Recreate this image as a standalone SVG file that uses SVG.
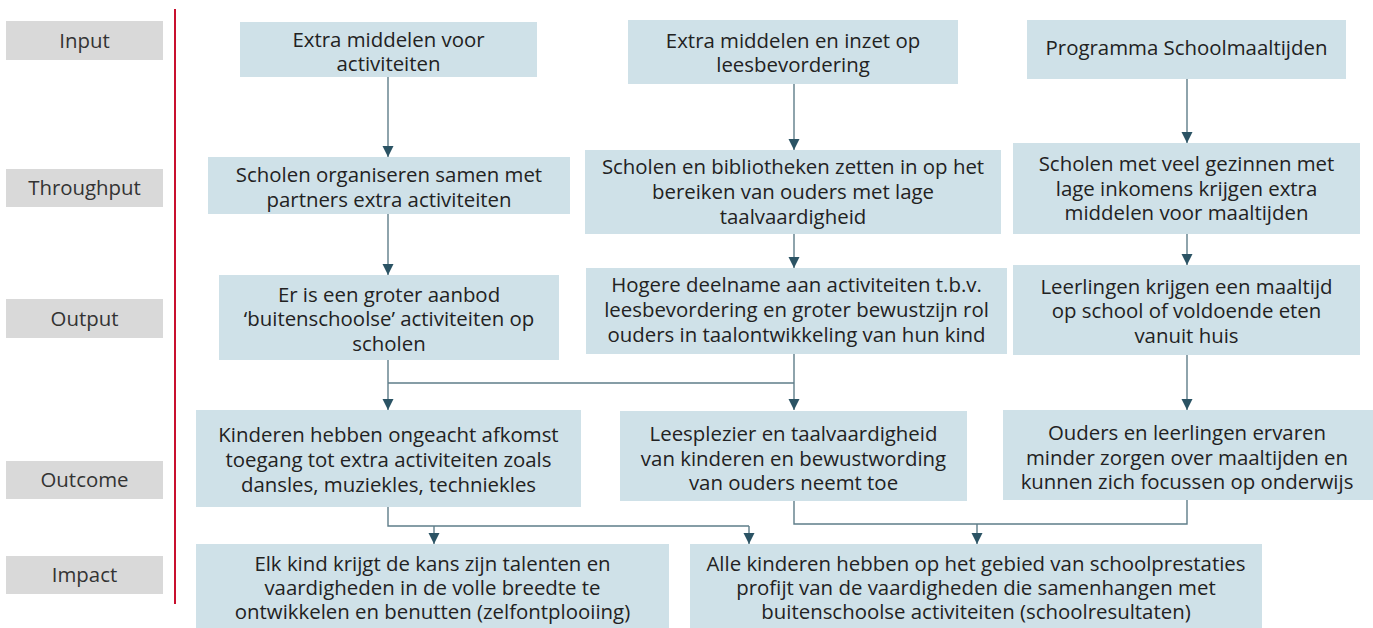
<svg xmlns="http://www.w3.org/2000/svg" width="1373" height="628" viewBox="0 0 1373 628">
<style>
.lbl rect{fill:#d9d9d9}
.lbl text{font-family:"Open Sans","Noto Sans",sans-serif;font-size:20.4px;fill:#333;text-anchor:middle}
.node rect{fill:#cfe1e8}
.node text{font-family:"Open Sans","Noto Sans",sans-serif;font-size:20.4px;fill:#222;text-anchor:middle}
.con path{fill:none;stroke:#5e7d89;stroke-width:1.4}
</style>
<defs>
<marker id="ah" markerUnits="userSpaceOnUse" markerWidth="12" markerHeight="12" refX="11" refY="5.5" orient="auto" viewBox="0 0 12 11">
<path d="M0,0 L11,5.5 L0,11 Z" fill="#2b5364"/>
</marker>
</defs>
<rect width="1373" height="628" fill="#fff"/>
<g id="labels" class="lbl">
<g id="lbl-input"><rect x="6" y="21" width="157" height="39"/><text x="84.5" y="48">Input</text></g>
<g id="lbl-throughput"><rect x="6" y="169" width="157" height="38"/><text x="84.5" y="195">Throughput</text></g>
<g id="lbl-output"><rect x="6" y="299" width="157" height="39"/><text x="84.5" y="326">Output</text></g>
<g id="lbl-outcome"><rect x="6" y="461" width="157" height="38"/><text x="84.5" y="487">Outcome</text></g>
<g id="lbl-impact"><rect x="6" y="556" width="157" height="38"/><text x="84.5" y="582">Impact</text></g>
</g>
<line x1="175" y1="9" x2="175" y2="604" stroke="#c8102e" stroke-width="2"/>
<g id="connectors" class="con">
<path d="M388,77 V157" marker-end="url(#ah)"/>
<path d="M388,214 V275" marker-end="url(#ah)"/>
<path d="M388,360 V410" marker-end="url(#ah)"/>
<path d="M794,84 V150" marker-end="url(#ah)"/>
<path d="M794,234 V268" marker-end="url(#ah)"/>
<path d="M794,354 V410" marker-end="url(#ah)"/>
<path d="M388,383 H794"/>
<path d="M1187,79 V143" marker-end="url(#ah)"/>
<path d="M1187,234 V265" marker-end="url(#ah)"/>
<path d="M1187,355 V410" marker-end="url(#ah)"/>
<path d="M388,507 V526 H749"/>
<path d="M434,526 V544" marker-end="url(#ah)"/>
<path d="M749,526 V544" marker-end="url(#ah)"/>
<path d="M794,501 V524 H1187 V500"/>
<path d="M977,524 V544" marker-end="url(#ah)"/>
</g>
<g id="n1" class="node"><rect x="240" y="22" width="297" height="55"/><text x="388.5" y="47">Extra middelen voor</text><text x="388.5" y="71">activiteiten</text></g>
<g id="n2" class="node"><rect x="628" y="20" width="330" height="64"/><text x="793" y="48">Extra middelen en inzet op</text><text x="793" y="72">leesbevordering</text></g>
<g id="n3" class="node"><rect x="1027" y="20" width="319" height="59"/><text x="1186.5" y="55">Programma Schoolmaaltijden</text></g>
<g id="n4" class="node"><rect x="208" y="157" width="362" height="57"/><text x="389" y="182">Scholen organiseren samen met</text><text x="389" y="207">partners extra activiteiten</text></g>
<g id="n5" class="node"><rect x="585" y="150" width="416" height="84"/><text x="793" y="174">Scholen en bibliotheken zetten in op het</text><text x="793" y="199">bereiken van ouders met lage</text><text x="793" y="224">taalvaardigheid</text></g>
<g id="n6" class="node"><rect x="1013" y="143" width="347" height="91"/><text x="1186.5" y="171">Scholen met veel gezinnen met</text><text x="1186.5" y="196">lage inkomens krijgen extra</text><text x="1186.5" y="220">middelen voor maaltijden</text></g>
<g id="n7" class="node"><rect x="219" y="275" width="340" height="85"/><text x="389" y="302">Er is een groter aanbod</text><text x="389" y="326">‘buitenschoolse’ activiteiten op</text><text x="389" y="351">scholen</text></g>
<g id="n8" class="node"><rect x="586" y="268" width="421" height="86"/><text x="796.5" y="292">Hogere deelname aan activiteiten t.b.v.</text><text x="796.5" y="317">leesbevordering en groter bewustzijn rol</text><text x="796.5" y="342">ouders in taalontwikkeling van hun kind</text></g>
<g id="n9" class="node"><rect x="1013" y="265" width="347" height="90"/><text x="1186.5" y="294">Leerlingen krijgen een maaltijd</text><text x="1186.5" y="318">op school of voldoende eten</text><text x="1186.5" y="343">vanuit huis</text></g>
<g id="n10" class="node"><rect x="196" y="410" width="385" height="97"/><text x="388.5" y="442">Kinderen hebben ongeacht afkomst</text><text x="388.5" y="467">toegang tot extra activiteiten zoals</text><text x="388.5" y="492">dansles, muziekles, techniekles</text></g>
<g id="n11" class="node"><rect x="620" y="411" width="347" height="90"/><text x="793.5" y="441">Leesplezier en taalvaardigheid</text><text x="793.5" y="466">van kinderen en bewustwording</text><text x="793.5" y="490">van ouders neemt toe</text></g>
<g id="n12" class="node"><rect x="1003" y="410" width="370" height="90"/><text x="1187" y="440">Ouders en leerlingen ervaren</text><text x="1187" y="465">minder zorgen over maaltijden en</text><text x="1187" y="489">kunnen zich focussen op onderwijs</text></g>
<g id="n13" class="node"><rect x="196" y="544" width="473" height="84"/><text x="432.5" y="571">Elk kind krijgt de kans zijn talenten en</text><text x="432.5" y="595">vaardigheden in de volle breedte te</text><text x="432.5" y="619">ontwikkelen en benutten (zelfontplooiing)</text></g>
<g id="n14" class="node"><rect x="690" y="544" width="572" height="84"/><text x="976" y="571">Alle kinderen hebben op het gebied van schoolprestaties</text><text x="976" y="595">profijt van de vaardigheden die samenhangen met</text><text x="976" y="619">buitenschoolse activiteiten (schoolresultaten)</text></g>
</svg>
